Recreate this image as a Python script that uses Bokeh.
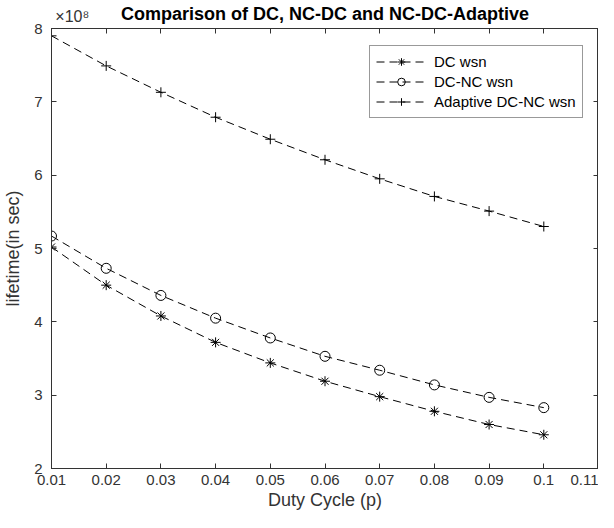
from bokeh.plotting import figure
from bokeh.models import (Range1d, FixedTicker, LinearAxis, CustomJSTickFormatter,
                          Legend, LegendItem)
from bokeh.embed import file_html
from bokeh.resources import INLINE

duty_cycle = [0.01, 0.02, 0.03, 0.04, 0.05, 0.06, 0.07, 0.08, 0.09, 0.10]
dc_wsn = [5.02, 4.50, 4.08, 3.72, 3.44, 3.19, 2.98, 2.78, 2.60, 2.46]
dc_nc_wsn = [5.17, 4.73, 4.36, 4.05, 3.78, 3.53, 3.34, 3.14, 2.97, 2.83]
adaptive_wsn = [7.90, 7.49, 7.13, 6.79, 6.49, 6.21, 5.95, 5.71, 5.51, 5.30]
x_ticks = [0.01, 0.02, 0.03, 0.04, 0.05, 0.06, 0.07, 0.08, 0.09, 0.10, 0.11]
y_ticks = [2, 3, 4, 5, 6, 7, 8]
title_text = "Comparison of DC, NC-DC and NC-DC-Adaptive"
exponent_text = "×10⁸"

FONT = "Liberation Sans"
AX = "#333333"

p = figure(width=598, height=512, output_backend="svg", toolbar_location=None,
           title=None,
           x_range=Range1d(0.01, 0.11), y_range=Range1d(2, 8),
           min_border_left=42, min_border_right=0, min_border_top=26, min_border_bottom=42,
           x_axis_label="Duty Cycle (p)", y_axis_label="lifetime(in sec)")

p.grid.visible = False
p.outline_line_color = AX
p.outline_line_width = 1
p.background_fill_color = "white"
p.border_fill_color = "white"

fmt = CustomJSTickFormatter(code="return parseFloat(tick.toFixed(2)).toString();")
p.xaxis.ticker = FixedTicker(ticks=x_ticks)
p.xaxis.formatter = fmt
p.yaxis.ticker = FixedTicker(ticks=y_ticks)

for ax in p.xaxis + p.yaxis:
    ax.major_tick_in = 5
    ax.major_tick_out = 0
    ax.minor_tick_line_color = None
    ax.axis_line_color = AX
    ax.major_tick_line_color = AX
    ax.major_label_text_font = FONT
    ax.major_label_text_font_size = "15px"
    ax.major_label_text_color = AX
    ax.axis_label_text_font = FONT
    ax.axis_label_text_font_size = "18px"
    ax.axis_label_text_font_style = "normal"
    ax.axis_label_text_color = AX
p.xaxis.major_label_standoff = 6
p.yaxis.major_label_standoff = 9
p.xaxis.axis_label_standoff = 2
p.yaxis.axis_label_standoff = 8

blank = CustomJSTickFormatter(code="return '';")
top = LinearAxis(ticker=FixedTicker(ticks=x_ticks), formatter=blank,
                 major_tick_in=5, major_tick_out=0, minor_tick_line_color=None,
                 axis_line_color=AX, major_tick_line_color=AX, major_label_standoff=0)
right = LinearAxis(ticker=FixedTicker(ticks=y_ticks), formatter=blank,
                   major_tick_in=5, major_tick_out=0, minor_tick_line_color=None,
                   axis_line_color=AX, major_tick_line_color=AX, major_label_standoff=0)
p.add_layout(top, "above")
p.add_layout(right, "right")

# title row: exponent marker as a tick label, chart title as the axis label
exp_fmt = CustomJSTickFormatter(args=dict(t=exponent_text), code="return t;")
title_axis = LinearAxis(ticker=FixedTicker(ticks=[0.0138]), formatter=exp_fmt,
                        axis_line_color=None, major_tick_line_color=None,
                        minor_tick_line_color=None, major_tick_in=0, major_tick_out=0,
                        major_label_standoff=4,
                        major_label_text_font=FONT, major_label_text_font_size="16px",
                        major_label_text_color=AX,
                        axis_label=title_text, axis_label_standoff=-19,
                        axis_label_text_font=FONT, axis_label_text_font_size="18px",
                        axis_label_text_font_style="bold", axis_label_text_color="black")
p.add_layout(title_axis, "above")

DASH = "8 5"
items = []
for ys, marker, lab in [(dc_wsn, "asterisk", "DC wsn"),
                        (dc_nc_wsn, "circle", "DC-NC wsn"),
                        (adaptive_wsn, "cross", "Adaptive DC-NC wsn")]:
    ln = p.line(duty_cycle, ys, line_color="black", line_width=1, line_dash=DASH)
    sc = p.scatter(duty_cycle, ys, marker=marker, size=10, line_color="black",
                   fill_color=None, line_width=1)
    items.append(LegendItem(label=lab, renderers=[ln, sc]))

legend = Legend(items=items, location=(318, 350))
legend.glyph_width = 50
legend.glyph_height = 19
legend.label_height = 19
legend.label_text_font = FONT
legend.label_text_font_size = "15px"
legend.label_text_color = "black"
legend.label_standoff = 8
legend.spacing = 1
legend.padding = 6
legend.margin = 0
legend.border_line_color = AX
legend.border_line_width = 1
legend.background_fill_alpha = 1
p.add_layout(legend, "center")

open("out.html", "w").write(file_html(p, INLINE))
